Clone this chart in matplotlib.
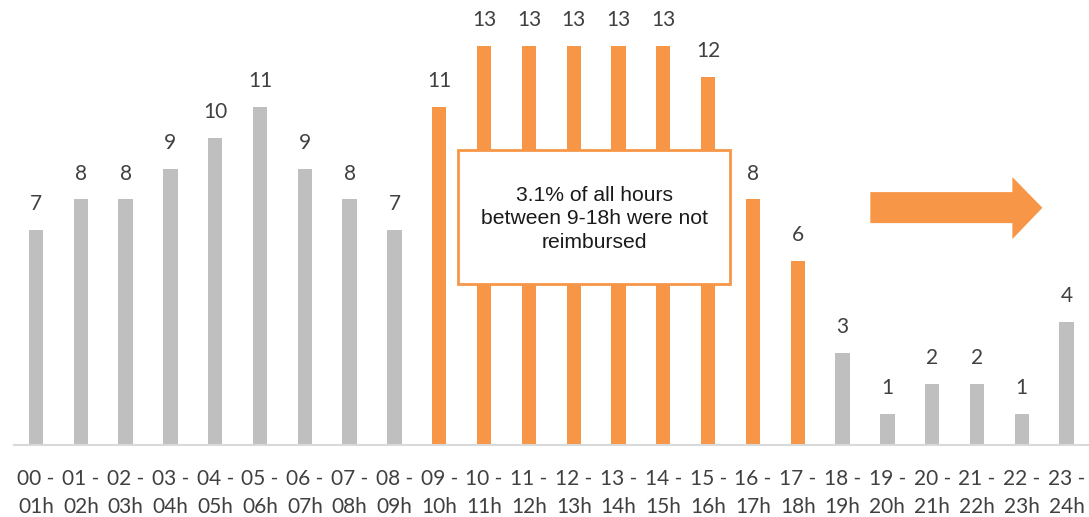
import matplotlib
matplotlib.use("Agg")
import matplotlib.pyplot as plt
from matplotlib.patches import Rectangle, Polygon

# Hourly counts, one bar per hour slot
slots = ["00 -\n01h", "01 -\n02h", "02 -\n03h", "03 -\n04h", "04 -\n05h", "05 -\n06h",
         "06 -\n07h", "07 -\n08h", "08 -\n09h", "09 -\n10h", "10 -\n11h", "11 -\n12h",
         "12 -\n13h", "13 -\n14h", "14 -\n15h", "15 -\n16h", "16 -\n17h", "17 -\n18h",
         "18 -\n19h", "19 -\n20h", "20 -\n21h", "21 -\n22h", "22 -\n23h", "23 -\n24h"]
counts = [7, 8, 8, 9, 10, 11, 9, 8, 7, 11, 13, 13, 13, 13, 13, 12, 8, 6, 3, 1, 2, 2, 1, 4]
office_hours = (9, 18)  # highlighted window [start, end)

GREY = "#bfbfbf"
ORANGE = "#f79646"
LABEL = "#404040"

plt.rcParams["font.family"] = ["Lato", "DejaVu Sans"]

fig = plt.figure(figsize=(10.89, 5.17), dpi=100)
ax = fig.add_axes([13.6 / 1089, 72 / 517, 1 - 13.6 / 1089, 445 / 517])

x = list(range(len(counts)))
colors = [ORANGE if office_hours[0] <= i < office_hours[1] else GREY for i in x]
bars = ax.bar(x, counts, width=0.32, color=colors, zorder=2)

for xi, v in zip(x, counts):
    ax.annotate(str(v), (xi, v), xytext=(0, 11.5), textcoords="offset points",
                ha="center", va="bottom", fontsize=15, color=LABEL)

ax.set_xlim(-0.5, len(counts) - 0.5)
ax.set_ylim(0, 14.5)
ax.set_xticks(x)
ax.set_xticklabels(slots, fontsize=15, color=LABEL, linespacing=1.55)
ax.tick_params(axis="x", length=0, pad=17)
ax.set_yticks([])
for side in ("top", "left", "right"):
    ax.spines[side].set_visible(False)
ax.spines["bottom"].set_color("#d9d9d9")
ax.spines["bottom"].set_linewidth(1.5)

# Callout box over the office-hours bars
box = Rectangle((9.42, 5.24), 6.07, 4.37, facecolor="white", edgecolor=ORANGE,
                linewidth=2, zorder=5)
ax.add_patch(box)
ax.text(12.455, 7.38, "3.1% of all hours\nbetween 9-18h were not\nreimbursed",
        ha="center", va="center", fontsize=15.2, color="#1a1a1a",
        family=["Liberation Sans", "DejaVu Sans"], linespacing=1.3, zorder=6)

# Block arrow pointing right
arrow = Polygon([(18.62, 8.24), (21.79, 8.24), (21.79, 8.73), (22.46, 7.73),
                 (21.79, 6.71), (21.79, 7.23), (18.62, 7.23)],
                closed=True, facecolor=ORANGE, edgecolor="none", zorder=5)
ax.add_patch(arrow)

fig.savefig("out.png", dpi=100, facecolor="white")
